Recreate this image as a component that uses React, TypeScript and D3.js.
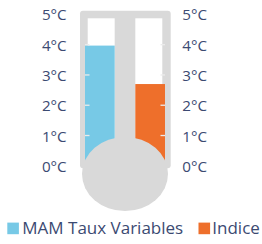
import React from "react";
import * as d3 from "d3";

const categories = ["MAM Taux Variables", "Indice"];
const values = [3.97, 2.7];
const colors = ["#77C9E6", "#EE6F2B"];
const ticks = [0, 1, 2, 3, 4, 5];
const tickLabel = (t: number) => `${t}°C`;

export default function App() {
  const W = 262, H = 244;
  const y = d3.scaleLinear().domain([0, 5]).range([165.8, 14.4]);
  const x = d3.scaleBand<string>().domain(categories).range([85, 165]).paddingInner(0.41);
  const bw = x.bandwidth();
  const gray = "#D9D9D9";
  const textColor = "#3B4A72";
  const font = "'Open Sans', sans-serif";
  const x0 = x(categories[0])!;
  const x1 = x(categories[1])!;
  const cx = (x0 + x1 + bw) / 2;
  return (
    <svg width={W} height={H} style={{ position: "absolute", left: 0, top: 0 }}>
      <rect x={80} y={10.7} width={90.7} height={157.5} rx={3} fill={gray} />
      <rect x={x0 + 2.7} y={18.3} width={bw - 2.7} height={150} fill="#fff" />
      <rect x={x1} y={18.3} width={bw - 2.7} height={150} fill="#fff" />
      {categories.map((c, i) => (
        <rect key={c} x={x(c)!} y={y(values[i])} width={bw} height={y(0) - y(values[i]) + 4} fill={colors[i]} />
      ))}
      {ticks.slice(1, 5).map((t) => (
        <g key={t}>
          <line x1={x0} x2={x0 + 4.5} y1={y(t)} y2={y(t)} stroke="#ECECEC" strokeWidth={1.3} />
          <line x1={x1 + bw - 4.5} x2={x1 + bw} y1={y(t)} y2={y(t)} stroke="#ECECEC" strokeWidth={1.3} />
        </g>
      ))}
      <ellipse cx={cx} cy={174} rx={43} ry={37} fill={gray} />
      {ticks.map((t) => (
        <g key={t} fontFamily={font} fontSize={15.2} fill={textColor}>
          <text x={66.7} y={y(t)} textAnchor="end" dominantBaseline="central">{tickLabel(t)}</text>
          <text x={182.3} y={y(t)} textAnchor="start" dominantBaseline="central">{tickLabel(t)}</text>
        </g>
      ))}
      <g fontFamily={font} fontSize={17} fill={textColor}>
        <rect x={7.3} y={222.6} width={11.6} height={11.6} fill={colors[0]} />
        <text x={22.3} y={234.3}>{categories[0]}</text>
        <rect x={198.5} y={222.6} width={11.6} height={11.6} fill={colors[1]} />
        <text x={212.3} y={234.3}>{categories[1]}</text>
      </g>
    </svg>
  );
}
